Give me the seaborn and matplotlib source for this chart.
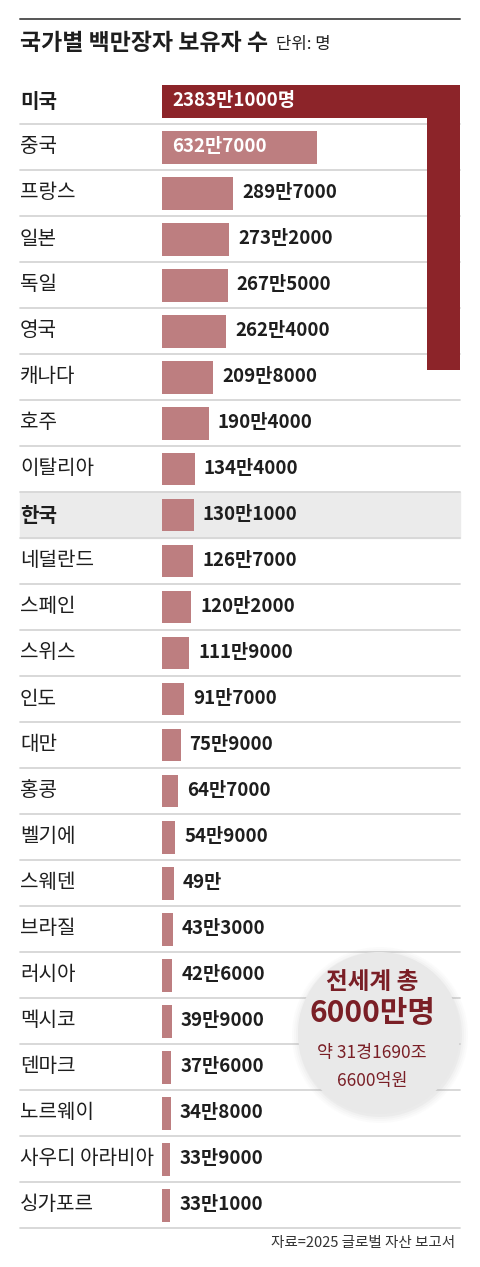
import matplotlib
matplotlib.use("Agg")
import matplotlib.pyplot as plt
import matplotlib.transforms as mtransforms
from matplotlib.patches import Rectangle, Ellipse
from matplotlib.lines import Line2D
import seaborn as sns
import pandas as pd

# ---------------- data ----------------
countries = ["미국", "중국", "프랑스", "일본", "독일", "영국", "캐나다", "호주", "이탈리아",
             "한국", "네덜란드", "스페인", "스위스", "인도", "대만", "홍콩", "벨기에", "스웨덴",
             "브라질", "러시아", "멕시코", "덴마크", "노르웨이", "사우디 아라비아", "싱가포르"]
millionaires = [23831000, 6327000, 2897000, 2732000, 2675000, 2624000, 2098000, 1904000,
                1344000, 1301000, 1267000, 1202000, 1119000, 917000, 759000, 647000, 549000,
                490000, 433000, 426000, 399000, 376000, 348000, 339000, 331000]
highlight = ["미국", "한국"]
title = "국가별 백만장자 보유자 수"
unit = "단위: 명"
source = "자료=2025 글로벌 자산 보고서"
bubble_lines = ["전세계 총", "6000만명", "약 31경1690조", "6600억원"]

# ---------------- style ----------------
sns.set_style("white")
plt.rcParams["font.family"] = ["Noto Sans CJK KR", "DejaVu Sans"]

W, H = 480, 1267
fig = plt.figure(figsize=(W / 100, H / 100), dpi=100)
fig.patch.set_facecolor("white")

def fx(x):
    return x / W

def fy(y):
    return 1 - y / H

US_COLOR = "#8c2429"
BAR_COLOR = "#bd7e80"
TEXT = "#1e1e1e"

PX_PER_UNIT = 0.245       # pixels per 만 (10,000 people)
ROW_PX = 46
BAR_FRAC = 33 / 46
left_px, right_px = 162, 460
top_px, bottom_px = 78, 1228

ax = fig.add_axes([fx(left_px), fy(bottom_px), fx(right_px - left_px), (bottom_px - top_px) / H])

df = pd.DataFrame({"country": countries, "man": [v / 10000 for v in millionaires]})
palette = {c: (US_COLOR if c == "미국" else BAR_COLOR) for c in countries}
sns.barplot(data=df, x="man", y="country", hue="country", palette=palette, legend=False,
            width=BAR_FRAC, saturation=1, ax=ax, zorder=3)
xmax = (right_px - left_px) / PX_PER_UNIT
ax.set_xlim(0, xmax)
ax.set_ylim(len(countries) - 0.5, -0.5)
ax.axis("off")
for p in ax.patches:
    p.set_linewidth(0)

trans = mtransforms.blended_transform_factory(fig.transFigure, ax.transData)

# Korea highlight band
kr = countries.index("한국")
ax.add_patch(Rectangle((fx(20), kr - 0.5), fx(440), 1, transform=trans, color="#ebebeb",
                       zorder=0, clip_on=False))

# row separators
for i in range(len(countries)):
    ax.add_line(Line2D([fx(20), fx(460)], [i + 0.5, i + 0.5], transform=trans,
                       color="#d6d6d6", lw=1.3, zorder=1, clip_on=False))

# overflowing US bar folds downward
us_val = df["man"][0]
overflow_px = (us_val - xmax) * PX_PER_UNIT
bar_w_units = BAR_FRAC * ROW_PX / PX_PER_UNIT
ax.add_patch(Rectangle((xmax - bar_w_units, -BAR_FRAC / 2), bar_w_units, overflow_px / ROW_PX,
                       color=US_COLOR, lw=0, zorder=4, clip_on=False))

# labels
def fmt(v):
    man, rest = divmod(v, 10000)
    return f"{man}만{rest}" if rest else f"{man}만"

for i, (c, v) in enumerate(zip(countries, millionaires)):
    ax.text(fx(20), i, c, transform=trans, ha="left", va="center", fontsize=14.5,
            fontweight="bold" if c in highlight else "normal", color=TEXT, zorder=5)
    lab = fmt(v)
    if i == 0:
        lab += "명"
    if i <= 1:
        ax.annotate(lab, xy=(0, i), xytext=(7.2, 0), textcoords="offset points",
                    ha="left", va="center", fontsize=13.5, fontweight="bold",
                    color="white", zorder=6)
    else:
        ax.annotate(lab, xy=(v / 10000, i), xytext=(6.5, 0), textcoords="offset points",
                    ha="left", va="center", fontsize=13.5, fontweight="bold",
                    color=TEXT, zorder=6, annotation_clip=False)

# title and rules
fig.add_artist(Line2D([fx(20), fx(460)], [fy(19), fy(19)], color="#555555", lw=1.4))
t = fig.text(fx(20), fy(43), title, fontsize=16.5, fontweight="bold", va="center",
             ha="left", color=TEXT)
fig.canvas.draw()
bb = t.get_window_extent()
fig.text((bb.x1 + 8) / W, fy(44), unit, fontsize=12, va="center", ha="left", color=TEXT)

fig.text(fx(455), fy(1243), source, fontsize=10.5, ha="right", va="center", color="#333333")

# bubble
cx, cy, r = 379, 1033, 81
for k, a in [(7, 0.03), (5, 0.04), (3, 0.05), (1, 0.07)]:
    fig.add_artist(Ellipse((fx(cx + 1), fy(cy + 2)), 2 * (r + k) / W, 2 * (r + k) / H,
                           color="#9a9a9a", alpha=a, lw=0))
fig.add_artist(Ellipse((fx(cx), fy(cy)), 2 * r / W, 2 * r / H, color="#e9e9e9", lw=0))
RED_T = "#7a1f26"
fig.text(fx(372), fy(982), bubble_lines[0], fontsize=17, fontweight="bold", ha="center",
         va="center", color=RED_T)
fig.text(fx(372), fy(1013), bubble_lines[1], fontsize=21.5, fontweight="bold", ha="center",
         va="center", color=RED_T)
fig.text(fx(372), fy(1053), bubble_lines[2], fontsize=12.5, ha="center", va="center",
         color=RED_T)
fig.text(fx(372), fy(1081), bubble_lines[3], fontsize=12.5, ha="center", va="center",
         color=RED_T)

fig.savefig("out.png", dpi=100, facecolor="white")
